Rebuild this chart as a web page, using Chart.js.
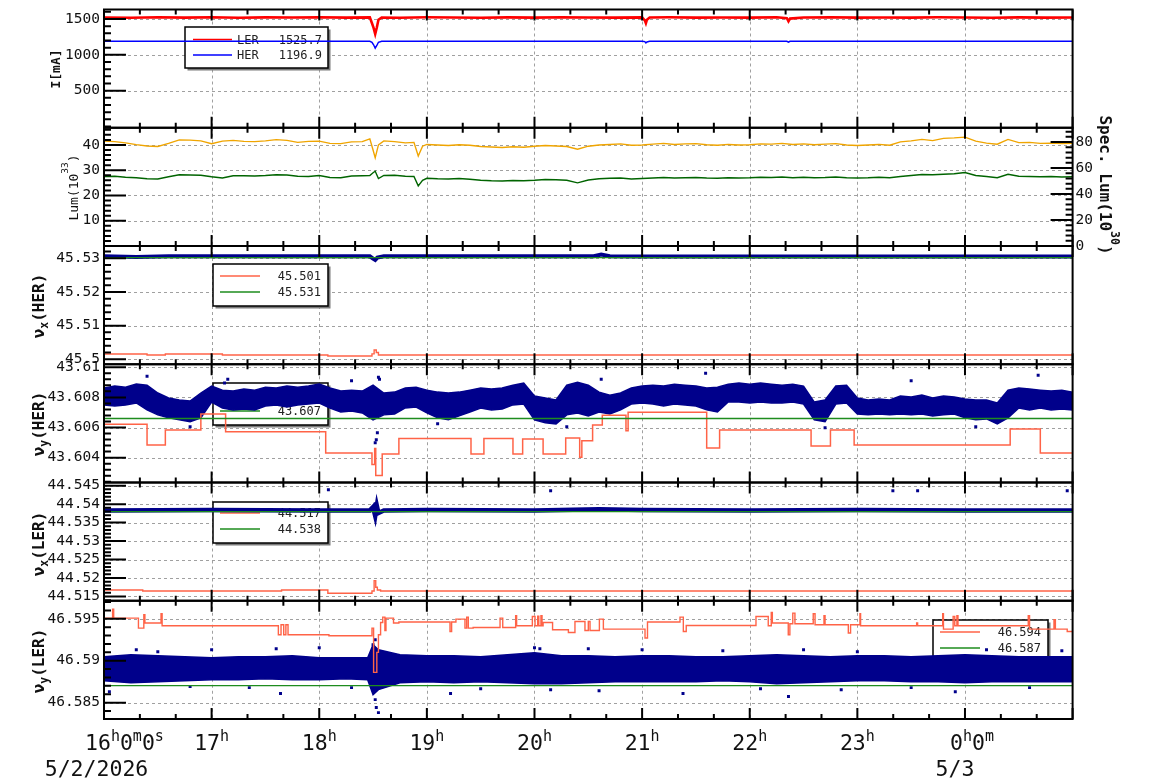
<!DOCTYPE html>
<html>
<head>
<meta charset="utf-8">
<title>Beam trend 5/2/2026</title>
<script src="https://cdn.jsdelivr.net/npm/chart.js@4/dist/chart.umd.min.js"></script>
<style>
  html, body { margin: 0; padding: 0; background: #fff; }
  #wrap { position: relative; width: 1154px; height: 782px; overflow: hidden; }
  #wrap canvas { position: absolute; left: 0; }
</style>
</head>
<body>
<div id="wrap"></div>
<script>
// time is in hours from 0h of 5/2 (24 = 0h of 5/3)
const xTickHours = [16, 17, 18, 19, 20, 21, 22, 23, 24];
const xTickLabels = ['16{h}0{m}0{s}', '17{h}', '18{h}', '19{h}', '20{h}', '21{h}', '22{h}', '23{h}', '0{h}0{m}'];
const dateLabels = ['5/2/2026', '5/3'];

// ---- beam currents [mA]
const curT = [16.0, 16.25, 16.5, 16.75, 17.0, 17.25, 17.5, 17.75, 18.0, 18.25, 18.47, 18.49, 18.505, 18.52, 18.535, 18.55, 18.58, 18.75,
  19.0, 19.25, 19.5, 19.75, 20.0, 20.25, 20.5, 20.75, 21.0, 21.025, 21.035, 21.045, 21.07, 21.25, 21.5, 21.75, 22.0, 22.25,
  22.345, 22.36, 22.375, 22.5, 22.75, 23.0, 23.25, 23.5, 23.75, 24.0, 24.25, 24.5, 24.75, 25.0];
const lerCurrent = [1521, 1517, 1524, 1519, 1523, 1518, 1522, 1520, 1524, 1519, 1522, 1440, 1375, 1290, 1380, 1490, 1521, 1518,
  1523, 1520, 1517, 1522, 1519, 1524, 1520, 1518, 1522, 1480, 1440, 1490, 1520, 1523, 1519, 1521, 1518, 1523,
  1510, 1468, 1505, 1520, 1524, 1519, 1521, 1518, 1523, 1520, 1517, 1522, 1519, 1521];
const herCurrent = [1189, 1189, 1189, 1189, 1189, 1189, 1189, 1189, 1189, 1189, 1189, 1175, 1140, 1092, 1130, 1175, 1189, 1189,
  1189, 1189, 1189, 1189, 1189, 1189, 1189, 1189, 1189, 1184, 1165, 1180, 1189, 1189, 1189, 1189, 1189, 1189,
  1189, 1178, 1188, 1189, 1189, 1189, 1189, 1189, 1189, 1189, 1189, 1189, 1189, 1189];
const legendNames1 = ['LER', 'HER'];
const legendValues1 = ['1525.7', '1196.9'];

// ---- luminosity
const lumT = [16.0, 16.1, 16.2, 16.3, 16.4, 16.5, 16.6, 16.7, 16.8, 16.9, 17.0, 17.1, 17.2, 17.3, 17.4, 17.5, 17.6, 17.7, 17.8, 17.9,
  18.0, 18.1, 18.2, 18.3, 18.4, 18.47, 18.50, 18.52, 18.55, 18.6, 18.7, 18.8, 18.88, 18.92, 18.96,
  19.0, 19.1, 19.2, 19.3, 19.4, 19.5, 19.6, 19.7, 19.8, 19.9, 20.0, 20.1, 20.2, 20.3, 20.4, 20.5, 20.6, 20.7, 20.8, 20.9,
  21.0, 21.1, 21.2, 21.3, 21.4, 21.5, 21.6, 21.7, 21.8, 21.9, 22.0, 22.1, 22.2, 22.3, 22.4, 22.5, 22.6, 22.7, 22.8, 22.9,
  23.0, 23.1, 23.2, 23.3, 23.4, 23.5, 23.6, 23.7, 23.8, 23.9, 24.0, 24.1, 24.2, 24.3, 24.4, 24.5, 24.6, 24.7, 24.8, 24.9, 25.0];
const lumOrange = [41.5, 41.3, 40.8, 40.1, 39.6, 39.4, 40.6, 42.0, 41.9, 41.6, 40.5, 41.5, 41.8, 41.4, 41.3, 41.6, 42.1, 41.8, 41.0, 41.4,
  41.5, 40.6, 40.5, 41.2, 41.3, 42.4, 38.0, 34.9, 40.0, 41.6, 41.3, 40.8, 41.0, 35.6, 39.5,
  40.2, 40.0, 39.8, 40.1, 39.9, 39.4, 39.2, 39.0, 39.3, 39.1, 39.5, 39.8, 39.6, 39.4, 38.3, 39.5, 40.0, 40.2, 40.4, 39.9,
  40.0, 40.3, 40.6, 40.2, 40.4, 40.5, 40.1, 39.9, 40.2, 40.0, 40.1, 40.4, 40.3, 40.6, 40.2, 40.4, 40.1, 40.3, 40.5, 40.0,
  39.8, 40.0, 40.2, 39.9, 41.2, 41.6, 42.2, 41.7, 42.6, 42.8, 43.1, 41.5, 40.7, 40.3, 42.2, 40.9, 41.0, 40.6, 40.7, 40.5, 40.6];
const lumGreen = [27.5, 27.6, 27.2, 27.0, 26.6, 26.5, 27.4, 28.2, 28.1, 28.0, 27.4, 26.9, 27.8, 27.8, 27.7, 27.9, 28.2, 28.1, 27.6, 27.5,
  27.9, 27.1, 27.0, 27.7, 27.8, 27.9, 29.0, 29.6, 26.7, 27.9, 28.0, 27.6, 27.5, 23.8, 26.0,
  26.8, 26.6, 26.5, 26.7, 26.4, 26.0, 25.8, 25.7, 25.9, 25.8, 26.0, 26.3, 26.2, 26.0, 25.0, 26.1, 26.6, 26.8, 26.9, 26.5,
  26.7, 26.9, 27.1, 26.9, 27.0, 27.1, 26.9, 26.8, 27.0, 26.9, 27.0, 27.2, 27.1, 27.3, 27.0, 27.2, 27.0, 27.1, 27.3, 27.0,
  26.9, 27.0, 27.2, 27.0, 27.5, 27.9, 28.3, 28.2, 28.4, 28.6, 29.1, 27.9, 27.5, 27.0, 28.4, 27.6, 27.5, 27.4, 27.5, 27.3, 27.4];

// ---- nu_x (HER)
const nxHerT = [16.0, 16.3, 16.6, 17.0, 18.0, 18.47, 18.50, 18.52, 18.54, 18.6, 19.0, 20.0, 20.55, 20.62, 20.7, 21.0, 22.0, 23.0, 24.0, 25.0];
const nxHerMeas = [45.5306, 45.5304, 45.5306, 45.5306, 45.5306, 45.5306, 45.5299, 45.5295, 45.5302, 45.5306, 45.5306, 45.5306, 45.5306, 45.5311, 45.5306, 45.5305, 45.5305, 45.5305, 45.5305, 45.5305];
const nxHerStepT = [16.0, 16.4, 16.57, 17.1, 18.08, 18.49, 18.51, 18.53, 18.55, 25.0];
const nxHerStepV = [45.50157, 45.50128, 45.50157, 45.50128, 45.50098, 45.5016, 45.50276, 45.5020, 45.50128, 45.50128];
const nxHerSet = 45.5302;
const legendValues3 = ['45.501', '45.531'];

// ---- nu_y (HER)
const nyHerBandT = [16.0, 16.1, 16.2, 16.3, 16.4, 16.5, 16.6, 16.7, 16.8, 16.9, 17.0, 17.1, 17.2, 17.3, 17.4, 17.5, 17.6, 17.7, 17.8, 17.9,
  18.0, 18.1, 18.2, 18.3, 18.4, 18.5, 18.6, 18.7, 18.8, 18.9, 19.0, 19.1, 19.2, 19.3, 19.4, 19.5, 19.6, 19.7, 19.8, 19.9,
  20.0, 20.1, 20.2, 20.3, 20.4, 20.5, 20.6, 20.7, 20.8, 20.9, 21.0, 21.1, 21.2, 21.3, 21.4, 21.5, 21.6, 21.7, 21.8, 21.9,
  22.0, 22.1, 22.2, 22.3, 22.4, 22.5, 22.6, 22.7, 22.8, 22.9, 23.0, 23.1, 23.2, 23.3, 23.4, 23.5, 23.6, 23.7, 23.8, 23.9,
  24.0, 24.1, 24.2, 24.3, 24.4, 24.5, 24.6, 24.7, 24.8, 24.9, 25.0];
const nyHerHi = [43.60862, 43.60875, 43.60868, 43.60888, 43.60881, 43.60829, 43.60796, 43.60783, 43.60776, 43.60829,
  43.60875, 43.60848, 43.60842, 43.60855, 43.60848, 43.60868, 43.60862, 43.60875, 43.60868, 43.60875,
  43.60888, 43.60862, 43.60842, 43.60848, 43.60842, 43.60881, 43.60829, 43.60835, 43.60862, 43.60868,
  43.60848, 43.60835, 43.60829, 43.60835, 43.60848, 43.60862, 43.60855, 43.60862, 43.60881, 43.60895,
  43.60809, 43.60796, 43.60783, 43.60881, 43.60901, 43.60881, 43.60835, 43.60815, 43.60829, 43.60862,
  43.60875, 43.60881, 43.60875, 43.60888, 43.60881, 43.60875, 43.60862, 43.60868, 43.60888, 43.60895,
  43.60888, 43.60895, 43.60888, 43.60881, 43.60888, 43.60875, 43.60769, 43.60783, 43.60875, 43.60881,
  43.60796, 43.60783, 43.60789, 43.60783, 43.60809, 43.60802, 43.60815, 43.60796, 43.60809, 43.60802,
  43.60789, 43.60783, 43.60783, 43.60763, 43.60848, 43.60862, 43.60855, 43.60848, 43.60842, 43.60848, 43.60835];
const nyHerLo = [43.6075, 43.60743, 43.6075, 43.60763, 43.60717, 43.60684, 43.60664, 43.60651, 43.60638, 43.60664,
  43.60769, 43.6073, 43.60717, 43.60723, 43.60717, 43.60743, 43.6075, 43.60736, 43.6075, 43.60756,
  43.60763, 43.6073, 43.60703, 43.6071, 43.60697, 43.60651, 43.60684, 43.6069, 43.6073, 43.60736,
  43.60697, 43.60664, 43.60651, 43.60677, 43.60703, 43.6073, 43.60717, 43.60723, 43.6075, 43.60756,
  43.60651, 43.60631, 43.60624, 43.60684, 43.60697, 43.60677, 43.60703, 43.6069, 43.60717, 43.60756,
  43.60763, 43.60756, 43.60743, 43.60756, 43.6075, 43.60743, 43.60717, 43.60703, 43.60769, 43.60769,
  43.60763, 43.60769, 43.60763, 43.60763, 43.60769, 43.60756, 43.60651, 43.60638, 43.60756, 43.60763,
  43.6069, 43.60684, 43.6069, 43.60684, 43.6069, 43.60684, 43.6069, 43.60677, 43.60684, 43.6069,
  43.60664, 43.60651, 43.60657, 43.60624, 43.60664, 43.6073, 43.60717, 43.6073, 43.60717, 43.60723, 43.60717];
const nyHerOutT = [16.40, 17.12, 17.15, 18.30, 18.52, 18.53, 18.54, 18.55, 18.56, 16.80, 19.10, 20.30, 20.62, 21.59, 22.70, 23.50, 24.10, 24.68];
const nyHerOutV = [43.6094, 43.60895, 43.6092, 43.6091, 43.60499, 43.60519, 43.60565, 43.60934, 43.6092, 43.60605, 43.60625, 43.60605, 43.6092, 43.6096, 43.60598, 43.6091, 43.60605, 43.60947];
const nyHerStepT = [16.0, 16.40, 16.57, 16.90, 17.13, 18.06, 18.49, 18.515, 18.525, 18.585, 18.74, 19.41, 19.53, 19.80, 19.89, 20.08, 20.29,
  20.42, 20.44, 20.54, 20.63, 20.85, 20.87, 21.60, 21.72, 22.57, 22.75, 22.97, 24.42, 24.70, 25.0];
const nyHerStepV = [43.60622, 43.60484, 43.60583, 43.6069, 43.60572, 43.60431, 43.60354, 43.6046, 43.60282, 43.60425, 43.60527, 43.60425, 43.60527,
  43.60425, 43.60524, 43.60425, 43.6053, 43.60402, 43.60512, 43.60616, 43.60682, 43.60578, 43.60701, 43.60464, 43.60583, 43.60477,
  43.60583, 43.60484, 43.6059, 43.60431, 43.60431];
const nyHerSet = 43.6066;
const legendValues4 = ['43.604', '43.607'];

// ---- nu_x (LER)
const nxLerT = [16.0, 17.0, 18.0, 18.47, 18.50, 18.52, 18.535, 18.55, 18.6, 19.0, 20.0, 20.6, 21.0, 22.0, 23.0, 24.0, 25.0];
const nxLerMeas = [44.5383, 44.5384, 44.5383, 44.5383, 44.5392, 44.5368, 44.5396, 44.5376, 44.5383, 44.5384, 44.5383, 44.5386, 44.5384, 44.5383, 44.5384, 44.5383, 44.5383];
const nxLerOutT = [18.085, 20.15, 23.33, 23.56, 24.95, 18.52];
const nxLerOutV = [44.5439, 44.5436, 44.5436, 44.5436, 44.5436, 44.5401];
const nxLerStepT = [16.0, 16.36, 17.65, 18.08, 18.49, 18.51, 18.525, 18.54, 18.57, 25.0];
const nxLerStepV = [44.51676, 44.51649, 44.51676, 44.51587, 44.51649, 44.51928, 44.51749, 44.51676, 44.51649, 44.51649];
const nxLerSet = 44.5380;
const legendValues5 = ['44.517', '44.538'];

// ---- nu_y (LER)
const nyLerBandT = [16.0, 16.25, 16.5, 16.75, 17.0, 17.25, 17.5, 17.75, 18.0, 18.25, 18.45, 18.5, 18.55, 18.75, 19.0, 19.25, 19.5, 19.75,
  20.0, 20.25, 20.5, 20.75, 21.0, 21.25, 21.5, 21.75, 22.0, 22.25, 22.5, 22.75, 23.0, 23.25, 23.5, 23.75, 24.0, 24.25, 24.5, 24.75, 25.0];
const nyLerHi = [46.59048, 46.59072, 46.5906, 46.59048, 46.59036, 46.59048, 46.59048, 46.5906, 46.59036, 46.59036, 46.59036, 46.5919, 46.59131,
  46.59072, 46.5906, 46.5906, 46.59048, 46.59072, 46.59095, 46.5906, 46.5906, 46.59048, 46.5906, 46.5906, 46.59048, 46.59048,
  46.5906, 46.59072, 46.5906, 46.59048, 46.5906, 46.5906, 46.59048, 46.5906, 46.59072, 46.5906, 46.59048, 46.59048, 46.59048];
const nyLerLo = [46.58762, 46.58738, 46.5875, 46.58762, 46.58774, 46.58774, 46.58786, 46.58774, 46.58774, 46.58786, 46.58774, 46.58595, 46.58655,
  46.58738, 46.5875, 46.58738, 46.5875, 46.58738, 46.58726, 46.58726, 46.58738, 46.5875, 46.5875, 46.5875, 46.5875, 46.58762,
  46.5875, 46.58726, 46.58738, 46.5875, 46.58762, 46.58762, 46.5875, 46.5875, 46.58738, 46.5875, 46.5875, 46.5875, 46.5875];
const nyLerOutT = [16.05, 16.30, 16.50, 16.80, 17.00, 17.35, 17.60, 17.64, 18.00, 18.30, 18.50, 18.52, 18.52, 18.53, 18.55, 19.22, 19.50,
  20.00, 20.05, 20.15, 20.50, 20.60, 21.00, 21.38, 21.75, 22.10, 22.36, 22.50, 22.85, 23.00, 23.50, 23.91, 24.20, 24.60, 24.90];
const nyLerOutV = [46.58631, 46.59131, 46.59107, 46.58691, 46.59131, 46.58679, 46.59143, 46.58608, 46.59155, 46.58679, 46.5919, 46.5925, 46.58536,
  46.58441, 46.58381, 46.58608, 46.58667, 46.59155, 46.59143, 46.58655, 46.59143, 46.58643, 46.59131, 46.58608, 46.59119, 46.58667,
  46.58572, 46.59131, 46.58655, 46.59107, 46.58679, 46.58631, 46.59131, 46.58679, 46.59119];
const nyLerStepT = [16.0, 16.08, 16.09, 16.32, 16.37, 16.38, 16.53, 16.54, 17.62, 17.645, 17.67, 17.69, 17.71, 18.09, 18.49, 18.505, 18.535,
  18.55, 18.57, 18.59, 18.61, 18.62, 18.69, 18.74, 19.215, 19.23, 19.27, 19.354, 19.37, 19.385, 19.43, 19.68, 19.705, 19.825, 19.834,
  19.98, 20.005, 20.03, 20.04, 20.06, 20.07, 20.08, 20.168, 20.315, 20.376, 20.469, 20.50, 20.516, 20.603, 20.64, 21.027, 21.05,
  21.352, 21.383, 21.41, 22.058, 22.172, 22.20, 22.21, 22.358, 22.373, 22.40, 22.42, 22.59, 22.607, 22.69, 22.70, 22.916, 22.937,
  23.024, 23.03, 23.551, 23.56, 23.793, 23.80, 23.89, 23.905, 23.925, 23.935, 24.588, 24.60, 24.827, 24.84, 24.95, 25.0];
const nyLerStepV = [46.59508, 46.59615, 46.59508, 46.59389, 46.59548, 46.59449, 46.5956, 46.59417, 46.5931, 46.59429, 46.5931, 46.59429, 46.5931,
  46.59298, 46.59389, 46.58861, 46.5910, 46.5931, 46.59456, 46.5952, 46.5936, 46.59508, 46.59449, 46.59461, 46.59349, 46.59461,
  46.59496, 46.59389, 46.5952, 46.59389, 46.59396, 46.59508, 46.59396, 46.59536, 46.59417, 46.59527, 46.59417, 46.5953, 46.59417,
  46.59536, 46.59417, 46.59456, 46.59369, 46.59337, 46.59468, 46.59361, 46.59468, 46.59361, 46.59496, 46.59377, 46.5927, 46.59461,
  46.5952, 46.59349, 46.5942, 46.59527, 46.59417, 46.59575, 46.59449, 46.5931, 46.5944, 46.59568, 46.5944, 46.5956, 46.59429,
  46.59536, 46.59429, 46.5933, 46.59429, 46.5956, 46.59417, 46.59449, 46.59417, 46.5956, 46.59377, 46.59527, 46.59417, 46.59536,
  46.59417, 46.59536, 46.59377, 46.59488, 46.59377, 46.59349, 46.59349];
const nyLerSet = 46.58703;
const legendValues6 = ['46.594', '46.587'];

// ---- axis ticks
const curTicks = [500, 1000, 1500];
const lumTicks = [10, 20, 30, 40];
const specTicks = [0, 20, 40, 60, 80];
const nxHerTicks = [45.5, 45.51, 45.52, 45.53];
const nyHerTicks = [43.604, 43.606, 43.608, 43.61];
const nxLerTicks = [44.515, 44.52, 44.525, 44.53, 44.535, 44.54, 44.545];
const nyLerTicks = [46.585, 46.59, 46.595];

// ------------------------------------------------------------------
const FONT = '"DejaVu Sans Mono", monospace';
const X0 = 104, X1 = 1072.6, PANEL_H = 118.25, PAD = 16;
const panelTops = [9.5, 127.75, 246, 364.25, 482.5, 600.75];
const NAVY = '#00008b', TOMATO = '#ff6347', GREEN = '#1e8c1e';

const pts = (t, v) => t.map((x, i) => ({ x: x, y: v[i] }));
const flat = v => [{ x: 16, y: v }, { x: 25, y: v }];

function lineDs(data, color, width, extra) {
  return Object.assign({ data: data, borderColor: color, borderWidth: width, pointRadius: 0, fill: false, tension: 0 }, extra || {});
}
function dotsDs(data) {
  return { data: data, showLine: false, pointRadius: 2.1, pointStyle: 'rect', pointBackgroundColor: NAVY, pointBorderWidth: 0, borderColor: NAVY };
}

function richWidth(ctx, segs, main, small) {
  let w = 0;
  segs.forEach(s => { ctx.font = s[1] ? small : main; w += ctx.measureText(s[0]).width; });
  return w;
}
function drawRich(ctx, segs, x, y, deg, main, small, supDy, subDy) {
  ctx.save();
  ctx.translate(x, y);
  ctx.rotate(deg * Math.PI / 180);
  ctx.textAlign = 'left';
  ctx.textBaseline = 'alphabetic';
  let cx = -richWidth(ctx, segs, main, small) / 2;
  segs.forEach(s => {
    ctx.font = s[1] ? small : main;
    const dy = s[1] === 'sup' ? supDy : s[1] === 'sub' ? subDy : 0;
    ctx.fillText(s[0], cx, dy);
    cx += ctx.measureText(s[0]).width;
  });
  ctx.restore();
}

function drawLegend(ctx, L, off) {
  const [bx, by, bw, bh] = L.box;
  ctx.save();
  ctx.setLineDash([]);
  ctx.fillStyle = '#7a7a7a';
  ctx.fillRect(bx + 2.5, by - off + 2.5, bw, bh);
  ctx.fillStyle = '#fff';
  ctx.fillRect(bx, by - off, bw, bh);
  ctx.strokeStyle = '#000';
  ctx.lineWidth = 1.5;
  ctx.strokeRect(bx, by - off, bw, bh);
  ctx.font = '12px ' + FONT;
  ctx.fillStyle = '#222';
  ctx.textBaseline = 'middle';
  L.rows.forEach(r => {
    ctx.strokeStyle = r.color;
    ctx.lineWidth = 1.3;
    ctx.beginPath();
    ctx.moveTo(L.line[0], r.y - off);
    ctx.lineTo(L.line[1], r.y - off);
    ctx.stroke();
    if (r.name) { ctx.textAlign = 'left'; ctx.fillText(r.name, L.nameX, r.y - off + 1); }
    ctx.textAlign = 'right';
    ctx.fillText(r.value, L.valueX, r.y - off + 1);
  });
  ctx.restore();
}

function yMarks(ctx, s, majors, step, x0, dir) {
  majors.forEach(v => { const y = s.getPixelForValue(v); ctx.moveTo(x0, y); ctx.lineTo(x0 + dir * 22, y); });
  const k0 = Math.ceil(s.min / step - 1e-6), k1 = Math.floor(s.max / step + 1e-6);
  for (let k = k0; k <= k1; k++) {
    const v = k * step;
    if (majors.some(m => Math.abs(m - v) < step / 10)) continue;
    const y = s.getPixelForValue(v);
    ctx.moveTo(x0, y); ctx.lineTo(x0 + dir * 7, y);
  }
}

function drawXLabels(ctx, xs, off) {
  const main = '21.5px ' + FONT, small = '15px ' + FONT;
  ctx.save();
  ctx.fillStyle = '#111';
  xTickHours.forEach((h, i) => {
    const segs = xTickLabels[i].split(/(\{[^}]*\})/).filter(s => s.length)
      .map(s => s[0] === '{' ? [s.slice(1, -1), 'sup'] : [s, '']);
    const w = richWidth(ctx, segs, main, small);
    let cx = xs.getPixelForValue(h);
    if (i === 0) cx = cx - 19 + w / 2;
    else if (i === xTickHours.length - 1) cx += 7;
    drawRich(ctx, segs, cx, 750 - off, 0, main, small, -9, 0);
  });
  ctx.font = main;
  ctx.textAlign = 'center';
  ctx.textBaseline = 'alphabetic';
  ctx.fillText(dateLabels[0], xs.getPixelForValue(16) - 7.5, 776 - off);
  ctx.fillText(dateLabels[1], xs.getPixelForValue(24) - 10, 776 - off);
  ctx.restore();
}

function decoPlugin(cfg, off, isBottom) {
  return {
    id: 'deco',
    beforeDatasetsDraw(chart) {
      const ctx = chart.ctx, a = chart.chartArea, xs = chart.scales.x, ys = chart.scales.y;
      ctx.save();
      ctx.strokeStyle = '#a0a0a0';
      ctx.lineWidth = 1;
      ctx.setLineDash([3, 3]);
      ctx.beginPath();
      xTickHours.forEach(h => {
        if (h <= 16) return;
        const x = Math.round(xs.getPixelForValue(h)) + 0.5;
        ctx.moveTo(x, a.top); ctx.lineTo(x, a.bottom);
      });
      cfg.ticks.forEach(v => {
        const y = Math.round(ys.getPixelForValue(v)) + 0.5;
        ctx.moveTo(a.left, y); ctx.lineTo(a.right, y);
      });
      ctx.stroke();
      ctx.restore();
      if (cfg.legend) drawLegend(ctx, cfg.legend, off);
    },
    afterDatasetsDraw(chart) {
      const ctx = chart.ctx, a = chart.chartArea, xs = chart.scales.x;
      ctx.save();
      ctx.setLineDash([]);
      ctx.strokeStyle = '#000';
      ctx.lineWidth = 2;
      ctx.beginPath();
      for (let m = 16 * 60; m <= 25 * 60; m += 20) {
        const x = xs.getPixelForValue(m / 60);
        const len = m % 60 === 0 ? 11 : 5;
        ctx.moveTo(x, a.bottom); ctx.lineTo(x, a.bottom - len);
        ctx.moveTo(x, a.top); ctx.lineTo(x, a.top + len);
      }
      yMarks(ctx, chart.scales.y, cfg.ticks, cfg.minor, a.left, 1);
      if (cfg.right) yMarks(ctx, chart.scales.y2, cfg.right.ticks, cfg.right.minor, a.right, -1);
      ctx.stroke();
      ctx.strokeRect(a.left, a.top, a.right - a.left, a.bottom - a.top);
      ctx.fillStyle = '#111';
      cfg.titles.forEach(t => {
        const w = t.bold ? 'bold ' : '';
        drawRich(ctx, t.segs, t.x, t.y - off, t.rot, w + t.size + 'px ' + FONT, w + t.small + 'px ' + FONT,
          t.sup || 0, t.sub || 0);
      });
      if (isBottom) drawXLabels(ctx, xs, off);
      ctx.restore();
    }
  };
}

function tickLabel(list, v) {
  const i = list.findIndex(t => Math.abs(t - v) < 1e-9);
  return i < 0 ? '' : String(list[i]);
}

function makePanel(idx, cfg) {
  const top = panelTops[idx], bottom = top + PANEL_H;
  const cTop = Math.floor(top - PAD);
  const cBottom = idx === 5 ? 782 : Math.ceil(bottom + PAD);
  const cH = cBottom - cTop;
  const canvas = document.createElement('canvas');
  canvas.width = 1154;
  canvas.height = cH;
  canvas.style.top = cTop + 'px';
  canvas.style.width = '1154px';
  canvas.style.height = cH + 'px';
  document.getElementById('wrap').appendChild(canvas);

  const tickFont = { family: FONT, size: 14.5 };
  const scales = {
    x: { type: 'linear', min: 16, max: 25, grid: { display: false, drawTicks: false }, border: { display: false },
      ticks: { display: false }, afterFit: s => { s.height = 0; } },
    y: { type: 'linear', position: 'left', min: cfg.yMin, max: cfg.yMax,
      grid: { display: false, drawTicks: false }, border: { display: false },
      ticks: { font: tickFont, color: '#111', padding: 4, autoSkip: false, callback: v => tickLabel(cfg.ticks, v) },
      afterBuildTicks: s => { s.ticks = cfg.ticks.map(v => ({ value: v })); },
      afterFit: s => { s.width = X0; } }
  };
  if (cfg.right) {
    scales.y2 = { type: 'linear', position: 'right', min: cfg.right.min, max: cfg.right.max,
      grid: { display: false, drawTicks: false }, border: { display: false },
      ticks: { font: tickFont, color: '#111', padding: 3, autoSkip: false, callback: v => tickLabel(cfg.right.ticks, v) },
      afterBuildTicks: s => { s.ticks = cfg.right.ticks.map(v => ({ value: v })); },
      afterFit: s => { s.width = 1154 - X1; } };
  }
  new Chart(canvas, {
    type: 'line',
    data: { datasets: cfg.datasets },
    options: {
      responsive: false,
      animation: false,
      events: [],
      layout: { padding: { top: top - cTop, bottom: cH - (bottom - cTop), left: 0, right: cfg.right ? 0 : 1154 - X1 } },
      plugins: { legend: { display: false }, tooltip: { enabled: false } },
      scales: scales
    },
    plugins: [decoPlugin(cfg, cTop, idx === 5)]
  });
}

const nuTitle = (sub, ring, y) => ({ segs: [['\u03bd', ''], [sub, 'sub'], ['(' + ring + ')', '']], x: 44, y: y, rot: -90,
  size: 16, small: 11.5, bold: true, sub: 4 });

// 1: beam currents
makePanel(0, {
  yMin: -17, yMax: 1632, ticks: curTicks, minor: 100,
  titles: [{ segs: [['I[mA]', '']], x: 60, y: 69, rot: -90, size: 13, small: 10, bold: true }],
  legend: { box: [185, 27, 143, 41], line: [193, 232], nameX: 237, valueX: 322,
    rows: [{ y: 39.5, color: '#ff0000', name: legendNames1[0], value: legendValues1[0] },
           { y: 55, color: '#0000ff', name: legendNames1[1], value: legendValues1[1] }] },
  datasets: [
    lineDs(pts(curT, lerCurrent), '#ff0000', 2.6),
    lineDs(pts(curT, herCurrent), '#0000ff', 1.5)
  ]
});

// 2: luminosity
makePanel(1, {
  yMin: 0, yMax: 46.8, ticks: lumTicks, minor: 2,
  right: { min: 0, max: 91, ticks: specTicks, minor: 4 },
  titles: [
    { segs: [['Lum(10', ''], ['33', 'sup'], [')', '']], x: 78, y: 187.5, rot: -90, size: 13, small: 9.5, sup: -10.5 },
    { segs: [['Spec. Lum(10', ''], ['30', 'sup'], [')', '']], x: 1100, y: 185, rot: 90, size: 16, small: 11.5, bold: true, sup: -11 }
  ],
  datasets: [
    lineDs(pts(lumT, lumOrange), '#f0a500', 1.4),
    lineDs(pts(lumT, lumGreen), '#006400', 1.4)
  ]
});

// 3: nu_x HER
makePanel(2, {
  yMin: 45.49853, yMax: 45.53365, ticks: nxHerTicks, minor: 0.002,
  titles: [nuTitle('x', 'HER', 306)],
  legend: { box: [213, 264, 115, 42], line: [220, 260], valueX: 321,
    rows: [{ y: 276, color: TOMATO, value: legendValues3[0] }, { y: 292, color: GREEN, value: legendValues3[1] }] },
  datasets: [
    lineDs(flat(nxHerSet), GREEN, 1.3),
    lineDs(pts(nxHerStepT, nxHerStepV), TOMATO, 1.4, { stepped: 'before' }),
    lineDs(pts(nxHerT, nxHerMeas), NAVY, 4)
  ]
});

// 4: nu_y HER
makePanel(3, {
  yMin: 43.60235, yMax: 43.6102, ticks: nyHerTicks, minor: 0.0004,
  titles: [nuTitle('y', 'HER', 424)],
  legend: { box: [213, 383, 115, 42], line: [220, 260], valueX: 321,
    rows: [{ y: 395, color: TOMATO, value: legendValues4[0] }, { y: 411, color: GREEN, value: legendValues4[1] }] },
  datasets: [
    lineDs(flat(nyHerSet), GREEN, 1.3),
    lineDs(pts(nyHerStepT, nyHerStepV), TOMATO, 1.5, { stepped: 'before' }),
    dotsDs(pts(nyHerOutT, nyHerOutV)),
    lineDs(pts(nyHerBandT, nyHerHi), NAVY, 1.5, { fill: '+1', backgroundColor: NAVY }),
    lineDs(pts(nyHerBandT, nyHerLo), NAVY, 1.5)
  ]
});

// 5: nu_x LER
makePanel(4, {
  yMin: 44.51384, yMax: 44.54586, ticks: nxLerTicks, minor: 0.001,
  titles: [nuTitle('x', 'LER', 544)],
  legend: { box: [213, 502, 115, 41], line: [220, 260], valueX: 321,
    rows: [{ y: 513, color: TOMATO, value: legendValues5[0] }, { y: 529, color: GREEN, value: legendValues5[1] }] },
  datasets: [
    lineDs(flat(nxLerSet), GREEN, 1.3),
    lineDs(pts(nxLerStepT, nxLerStepV), TOMATO, 1.4, { stepped: 'before' }),
    dotsDs(pts(nxLerOutT, nxLerOutV)),
    lineDs(pts(nxLerT, nxLerMeas), NAVY, 4.5)
  ]
});

// 6: nu_y LER
makePanel(5, {
  yMin: 46.58305, yMax: 46.59715, ticks: nyLerTicks, minor: 0.001,
  titles: [nuTitle('y', 'LER', 661)],
  legend: { box: [933, 620, 115, 42], line: [940, 980], valueX: 1041,
    rows: [{ y: 632, color: TOMATO, value: legendValues6[0] }, { y: 648, color: GREEN, value: legendValues6[1] }] },
  datasets: [
    lineDs(flat(nyLerSet), GREEN, 1.3),
    lineDs(pts(nyLerStepT, nyLerStepV), TOMATO, 1.4, { stepped: 'before' }),
    dotsDs(pts(nyLerOutT, nyLerOutV)),
    lineDs(pts(nyLerBandT, nyLerHi), NAVY, 1.5, { fill: '+1', backgroundColor: NAVY }),
    lineDs(pts(nyLerBandT, nyLerLo), NAVY, 1.5)
  ]
});
</script>
</body>
</html>
